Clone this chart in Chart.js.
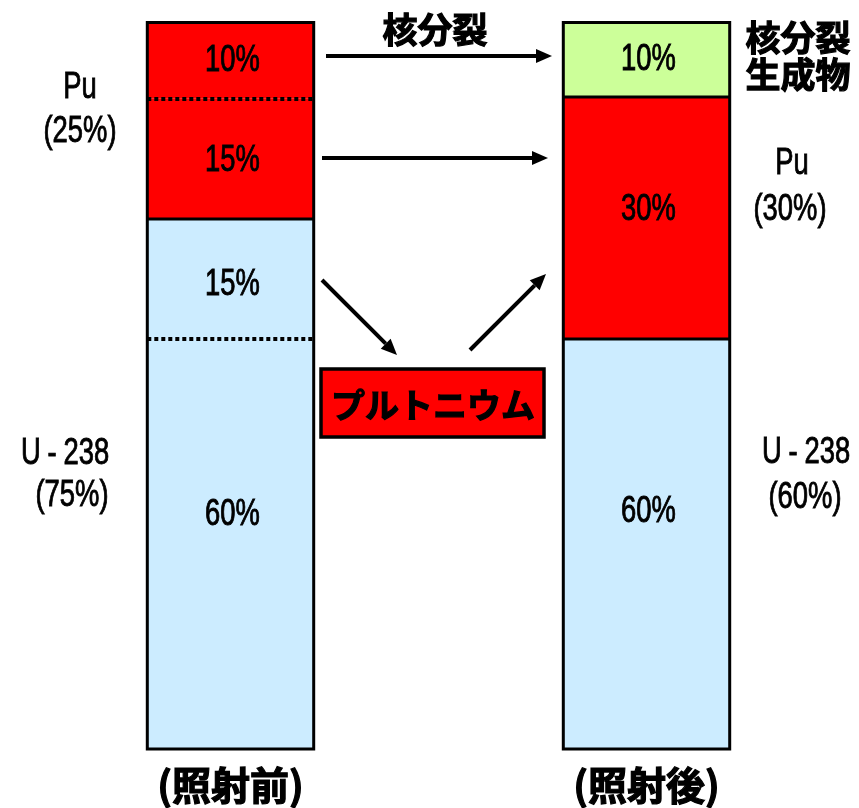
<!DOCTYPE html>
<html>
<head>
<meta charset="utf-8">
<script src="https://cdn.jsdelivr.net/npm/chart.js@4/dist/chart.umd.min.js"></script>
<style>
  body { margin: 0; background: #fff; }
  #wrap { width: 859px; height: 808px; }
</style>
</head>
<body>
<div id="wrap"><canvas id="myChart" width="859" height="808"></canvas></div>
<script>
// bar segments, bottom to top (heights, % of the column)
const categories = ['(照射前)', '(照射後)']
const u238Rest = [56.4, 56.4]
const u238ToPu = [16.5, null]
const puRest = [16.6, 33.3]
const puToFission = [10.5, null]
const fissionProducts = [null, 10.3]

// texts printed inside the segments
const u238RestLabels = ['60%', '60%']
const u238ToPuLabels = ['15%', '']
const puRestLabels = ['15%', '30%']
const puToFissionLabels = ['10%', '']
const fissionLabels = ['', '10%']

const blue = '#ccecff'
const red = '#ff0000'
const green = '#ccff99'

// no narrow face installed, so squeeze Liberation Sans by hand
const latin = '36px "Liberation Sans", Arial, sans-serif'
const squeeze = 0.76

function narrowText(ctx, text, x, y) {
    ctx.save()
    ctx.translate(x, y)
    ctx.scale(squeeze, 1)
    ctx.textAlign = 'center'
    ctx.lineWidth = 0.9
    ctx.strokeStyle = '#000'
    ctx.fillText(text, 0, 0)
    ctx.strokeText(text, 0, 0)
    ctx.restore()
}

function narrowSpaced(ctx, text, x, y) {
    // hyphen sits with a little air on both sides, like the original
    const parts = text.split('-')
    const gap = 9
    const w0 = ctx.measureText(parts[0]).width
    const wh = ctx.measureText('-').width
    const w1 = ctx.measureText(parts[1]).width
    ctx.save()
    ctx.translate(x, y)
    ctx.scale(squeeze, 1)
    ctx.lineWidth = 0.9
    ctx.strokeStyle = '#000'
    let cx = -(w0 + wh + w1 + gap * 2) / 2
    ctx.textAlign = 'left'
    const pieces = [parts[0], '-', parts[1]]
    const widths = [w0, wh, w1]
    pieces.forEach((p, k) => {
        ctx.fillText(p, cx, 0)
        ctx.strokeText(p, cx, 0)
        cx += widths[k] + gap
    })
    ctx.restore()
}

function boldCjk(ctx, text, x, y) {
    ctx.lineWidth = 1.2
    ctx.strokeStyle = '#000'
    ctx.fillText(text, x, y)
    ctx.strokeText(text, x, y)
}

function arrow(ctx, x1, y1, x2, y2) {
    const len = 16
    const half = 7
    const a = Math.atan2(y2 - y1, x2 - x1)
    const bx = x2 - len * Math.cos(a)
    const by = y2 - len * Math.sin(a)
    ctx.save()
    ctx.strokeStyle = '#000'
    ctx.fillStyle = '#000'
    ctx.lineWidth = 4
    ctx.beginPath()
    ctx.moveTo(x1, y1)
    ctx.lineTo(bx, by)
    ctx.stroke()
    ctx.beginPath()
    ctx.moveTo(x2, y2)
    ctx.lineTo(bx + half * Math.sin(a), by - half * Math.cos(a))
    ctx.lineTo(bx - half * Math.sin(a), by + half * Math.cos(a))
    ctx.closePath()
    ctx.fill()
    ctx.restore()
}

const outlinePlugin = {
    id: 'outline',
    afterDatasetsDraw(chart) {
        const ctx = chart.ctx
        const n = chart.data.labels.length
        for (let i = 0; i < n; i++) {
            const segs = []
            chart.data.datasets.forEach((ds, d) => {
                if (ds.data[i] == null) return
                segs.push({ el: chart.getDatasetMeta(d).data[i], color: ds.backgroundColor })
            })
            if (!segs.length) continue
            const el = segs[0].el
            const left = el.x - el.width / 2
            const right = el.x + el.width / 2
            const bottom = el.base
            const top = segs[segs.length - 1].el.y
            ctx.save()
            ctx.strokeStyle = '#000'
            for (let s = 0; s < segs.length - 1; s++) {
                const y = Math.round(segs[s].el.y)
                const dotted = segs[s].color === segs[s + 1].color
                ctx.lineWidth = dotted ? 4 : 3
                ctx.setLineDash(dotted ? [4, 3] : [])
                ctx.beginPath()
                ctx.moveTo(left, y)
                ctx.lineTo(right, y)
                ctx.stroke()
            }
            ctx.setLineDash([])
            ctx.lineWidth = 3
            ctx.strokeRect(left, top, right - left, bottom - top)
            ctx.restore()
        }
    },
    afterDraw(chart) {
        const ctx = chart.ctx
        const x = chart.scales.x
        ctx.save()
        ctx.fillStyle = '#000'
        ctx.textBaseline = 'middle'

        // segment texts
        ctx.font = latin
        chart.data.datasets.forEach((ds, d) => {
            chart.getDatasetMeta(d).data.forEach((el, i) => {
                const txt = ds.segLabels[i]
                if (!txt) return
                let y = (el.y + el.base) / 2
                if (ds.segShift) y += ds.segShift[i]
                narrowText(ctx, txt, el.x + 2, y)
            })
        })

        // side labels
        narrowText(ctx, 'Pu', 80, 88)
        narrowText(ctx, '(25%)', 80, 132)
        narrowSpaced(ctx, 'U-238', 65, 454)
        narrowText(ctx, '(75%)', 72, 496)
        narrowText(ctx, 'Pu', 792, 164)
        narrowText(ctx, '(30%)', 790, 210)
        narrowSpaced(ctx, 'U-238', 806, 453)
        narrowText(ctx, '(60%)', 805, 498)

        ctx.textAlign = 'center'
        ctx.font = 'bold 35px "Noto Sans CJK JP", sans-serif'
        boldCjk(ctx, '核分裂', 798, 38)
        boldCjk(ctx, '生成物', 798, 75)
        boldCjk(ctx, '核分裂', 435, 30)

        // arrows
        arrow(ctx, 326, 56, 552, 56)
        arrow(ctx, 322, 158, 548, 158)
        arrow(ctx, 322, 280, 397, 355)
        arrow(ctx, 470, 350, 546, 274)

        // plutonium box
        ctx.fillStyle = red
        ctx.fillRect(321, 369, 223, 68)
        ctx.strokeStyle = '#000'
        ctx.lineWidth = 3.5
        ctx.strokeRect(321, 369, 223, 68)
        ctx.fillStyle = '#000'
        ctx.font = 'bold 34px "Noto Sans CJK JP", sans-serif'
        boldCjk(ctx, 'プルトニウム', 433, 405)

        // column captions from the category axis
        ctx.font = 'bold 39px "Noto Sans CJK JP", sans-serif'
        chart.data.labels.forEach((lab, i) => {
            boldCjk(ctx, lab, x.getPixelForValue(i), 785)
        })
        ctx.restore()
    },
}

const data = {
    labels: categories,
    datasets: [
        { label: 'U-238', data: u238Rest, backgroundColor: blue, segLabels: u238RestLabels, segShift: [-29, -32] },
        { label: 'U-238 → Pu', data: u238ToPu, backgroundColor: blue, segLabels: u238ToPuLabels, segShift: [6, 0] },
        { label: 'Pu', data: puRest, backgroundColor: red, segLabels: puRestLabels, segShift: [2, -8] },
        { label: 'Pu → 核分裂', data: puToFission, backgroundColor: red, segLabels: puToFissionLabels },
        { label: '核分裂生成物', data: fissionProducts, backgroundColor: green, segLabels: fissionLabels },
    ],
}

const config = {
    type: 'bar',
    data: data,
    options: {
        responsive: false,
        animation: false,
        layout: { padding: { left: 22.5, right: 4.5, top: 22.5, bottom: 59 } },
        datasets: { bar: { barPercentage: 0.4, categoryPercentage: 1, borderWidth: 0, skipNull: true } },
        scales: {
            x: { stacked: true, display: false },
            y: { stacked: true, display: false, min: 0, max: 100 },
        },
        plugins: { legend: { display: false }, tooltip: { enabled: false } },
    },
    plugins: [outlinePlugin],
}

const myChart = new Chart(document.getElementById('myChart'), config)
</script>
</body>
</html>
